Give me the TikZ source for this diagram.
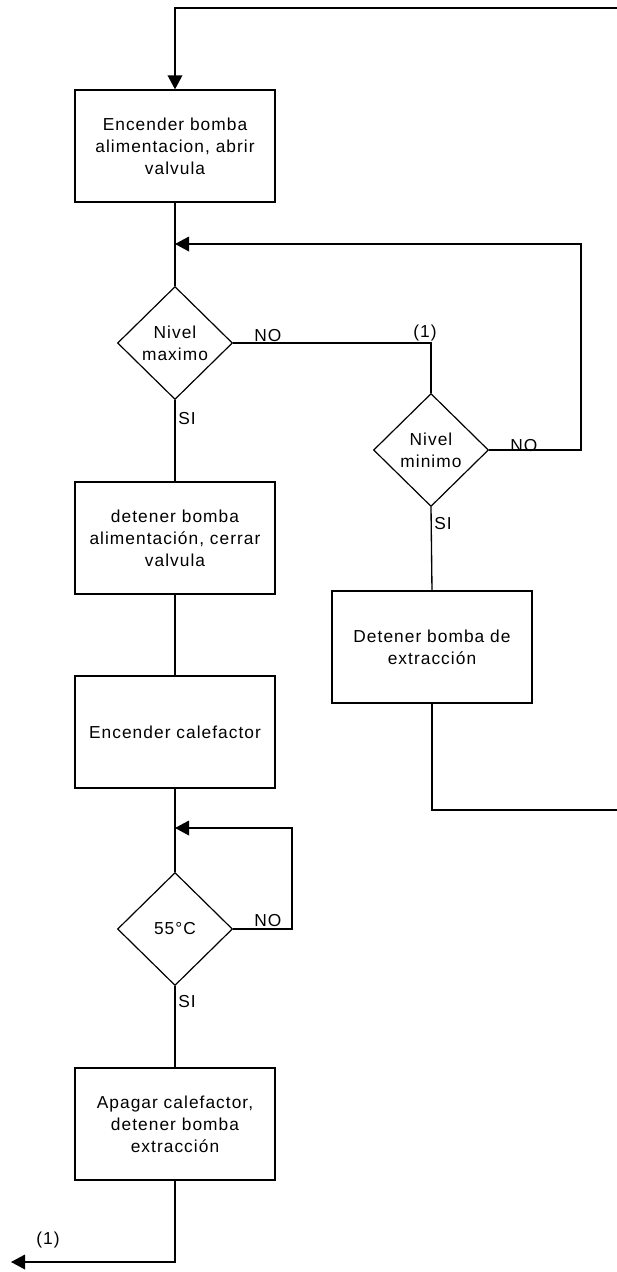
\documentclass[tikz,border=0pt]{standalone}
\usepackage{fontspec}
\setmainfont{Liberation Sans}[LetterSpace=6]
\usetikzlibrary{arrows.meta}
\usetikzlibrary{shapes}

\begin{document}
\begin{tikzpicture}[x = 0.75pt, y = -0.75pt]
\tikzstyle{BoxStyle}=[shape = rectangle,
                      draw,
                      line width = 1pt,
                      minimum width = 150pt,
                      minimum height = 84pt,
                      inner sep = 0pt,
                      align = center,
                      font = \fontsize{13}{16.5}\selectfont]
\tikzstyle{TestStyle}=[shape = diamond,
                       draw,
                       line width = 0.9pt,
                       minimum width = 86.25pt,
                       minimum height = 84.75pt,
                       inner sep = 0pt,
                       align = center,
                       font = \fontsize{13}{16.5}\selectfont]
\tikzstyle{EdgeStyle}=[line width = 1pt]
\tikzstyle{ArrowStyle}=[EdgeStyle, -{Triangle[length = 10.5pt, width = 11pt]}]
\tikzstyle{LabelStyle}=[inner sep = 0pt, font = \fontsize{13}{15}\selectfont]
\useasboundingbox (0,0) rectangle (617,1272);
% main column
\node[BoxStyle] (enc) at (175,146) {Encender bomba\\alimentacion, abrir\\valvula};
\node[TestStyle] (nmax) at (175,343) {Nivel\\maximo};
\node[BoxStyle] (detb) at (175,538) {detener bomba\\alimentación, cerrar\\valvula};
\node[BoxStyle] (cal) at (175,732) {Encender calefactor};
\node[TestStyle] (temp) at (175,929) {55°C};
\node[BoxStyle] (apag) at (175,1124) {Apagar calefactor,\\detener bomba\\extracción};
% right column
\node[TestStyle] (nmin) at (431,450) {Nivel\\minimo};
\node[BoxStyle] (detex) at (432,647) {Detener bomba de\\extracción};
% corners
\coordinate (in1) at (617,8);
\coordinate (j1) at (175,244);
\coordinate (c1) at (431,343);
\coordinate (c2) at (581,450);
\coordinate (j2) at (175,828);
\coordinate (c3) at (292,929);
\coordinate (out1) at (11,1262);
\coordinate (c4) at (432,810);
\coordinate (out2) at (617,810);
% connectors
\draw[ArrowStyle] (in1) -| (enc.north);
\draw[EdgeStyle] (enc.south) -- (nmax.north);
\draw[EdgeStyle] (nmax.east) -- (c1) -- (nmin.north);
\draw[ArrowStyle] (nmin.east) -- (c2) |- (j1);
\draw[EdgeStyle] (nmax.south) -- (detb.north);
\draw[EdgeStyle] (detb.south) -- (cal.north);
\draw[EdgeStyle] (cal.south) -- (temp.north);
\draw[ArrowStyle] (temp.east) -- (c3) |- (j2);
\draw[EdgeStyle] (temp.south) -- (apag.north);
\draw[ArrowStyle] (apag.south) |- (out1);
\draw[EdgeStyle] (nmin.south) -- (detex.north);
\draw[EdgeStyle] (detex.south) -- (c4) -- (out2);
% labels
\node[LabelStyle, anchor = base west] (no1) at (254,341) {NO};
\node[LabelStyle, anchor = base] (ref1) at (425,337) {(1)};
\node[LabelStyle, anchor = base west] (si1) at (178,424) {SI};
\node[LabelStyle, anchor = base west] (no2) at (510,451) {NO};
\node[LabelStyle, anchor = base west] (si2) at (434,529) {SI};
\node[LabelStyle, anchor = base west] (no3) at (254,926) {NO};
\node[LabelStyle, anchor = base west] (si3) at (178,1007) {SI};
\node[LabelStyle, anchor = base] (ref2) at (48,1244) {(1)};
\end{tikzpicture}
\end{document}
